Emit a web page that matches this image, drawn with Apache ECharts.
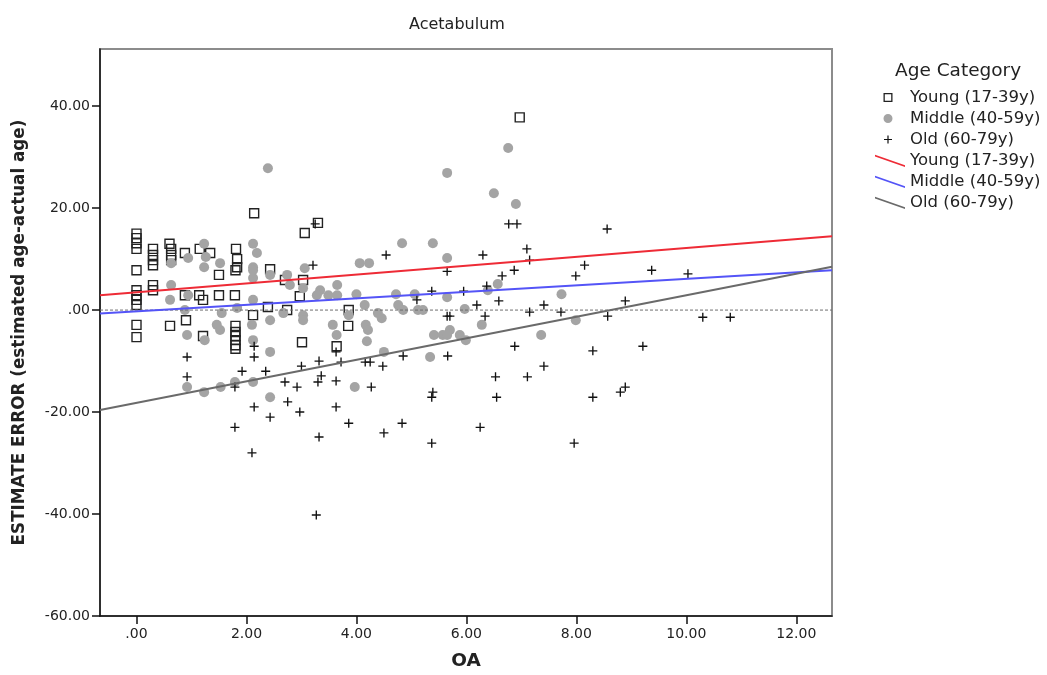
<!DOCTYPE html>
<html>
<head>
<meta charset="utf-8">
<script src="https://cdn.jsdelivr.net/npm/echarts@6/dist/echarts.min.js"></script>
<style>
  html, body { margin: 0; padding: 0; background: #fff; }
  #chart { width: 1047px; height: 675px; }
</style>
</head>
<body>
<div id="chart"></div>
<script>
// data: [OA, estimate error]
var youngPoints = [
  [0,15],[0,14.1],[0,13.1],[0,12],[0,7.8],[0,3.9],[0,2.9],[0,2.0],[0,1.0],[0,-2.9],[0,-5.3],
  [0.3,12],[0.3,10.8],[0.3,9.8],[0.3,8.8],[0.3,4.9],[0.3,3.9],
  [0.6,13],[0.63,12],[0.63,10.8],[0.63,9.8],[0.61,-3.1],
  [0.88,11.2],[0.88,2.9],[0.9,-2],
  [1.15,12],[1.34,11.2],[1.14,2.9],[1.21,2.0],[1.21,-5.1],
  [1.5,6.9],[1.5,2.9],
  [1.81,12],[1.83,10],[1.83,8.4],[1.8,7.8],[1.79,2.9],[1.8,-3.1],[1.8,-4.3],[1.8,-5.1],[1.8,-5.9],[1.8,-6.9],[1.8,-7.6],
  [2.14,19],[2.12,-1.0],[2.43,8],[2.39,0.6],
  [2.7,5.9],[3.03,5.9],[2.97,2.7],[2.74,0],[3.06,15.1],[3.3,17.1],[3.86,0],[3.85,-3.1],[3.01,-6.3],[3.64,-7.1],
  [6.97,37.8]
];
var middlePoints = [
  [0.63,9.2],[0.94,10.2],[1.23,13],[1.26,10.4],[1.52,9.2],[1.23,8.4],[2.12,13],[2.19,11.2],[2.12,8.4],[2.39,27.8],
  [2.12,7.8],[2.43,6.9],[2.12,6.3],[0.63,4.9],[0.61,2.0],[0.94,2.9],
  [1.83,0.4],[2.12,2.0],[0.88,0],[1.55,-0.6],[2.43,-2],[1.46,-2.9],[1.52,-3.9],[0.92,-4.9],[1.24,-5.9],[2.1,-2.9],[2.12,-5.9],[2.43,-8.2],
  [0.92,-15.1],[1.23,-16.1],[1.53,-15.1],[1.79,-14.1],[2.12,-14.1],[2.43,-17.1],
  [4.83,13.1],[5.39,13.1],[4.06,9.2],[4.23,9.2],[3.06,8.2],[5.65,10.2],[2.74,6.9],[2.79,4.9],[3.03,4.3],
  [3.34,3.9],[3.49,2.9],[3.65,4.9],[3.65,2.9],[3.28,2.9],[4.0,3.1],[4.15,1.0],[4.72,3.1],[5.06,3.1],[4.76,1.0],[4.85,0],[5.12,0],[5.21,0],[5.65,2.5],
  [2.67,-0.6],[3.03,-1],[3.03,-2],[3.86,-1],[3.57,-2.9],[3.64,-4.9],[4.17,-2.9],[4.21,-3.9],[4.39,-0.6],[4.46,-1.6],[4.19,-6.1],[5.41,-4.9],[5.57,-4.9],
  [4.5,-8.2],[5.34,-9.2],[3.97,-15.1],
  [5.65,26.9],[6.76,31.8],[6.5,22.9],[6.9,20.8],[6.57,5.1],[6.39,3.9],[7.73,3.1],[5.97,0.2],[7.99,-2],[6.28,-2.9],
  [5.7,-3.9],[5.65,-4.9],[5.88,-4.9],[5.99,-5.9],[7.36,-4.9]
];
var oldPoints = [
  [2.14,-7.1],[2.14,-9.2],[0.92,-9.2],[0.92,-13.1],[1.92,-12],[2.35,-12],[1.79,-15.1],[2.14,-19],[2.43,-21],[1.79,-23],[2.1,-28],
  [3.25,16.9],[4.54,10.8],[3.21,8.8],[5.65,7.6],[5.37,3.7],[5.1,2.0],[5.65,-1.2],[5.7,-1.2],
  [3.63,-8.2],[3.0,-11],[3.32,-10],[3.72,-10.2],[4.16,-10.2],[4.25,-10.2],[4.48,-11],[4.85,-9],[5.66,-9],
  [2.7,-14.1],[2.92,-15.1],[3.36,-12.9],[3.3,-14.1],[3.63,-13.9],[4.27,-15.1],[5.39,-16.1],[5.37,-17.1],
  [2.75,-18],[2.97,-20],[3.63,-19],[3.86,-22.2],[4.5,-24.1],[4.83,-22.2],[3.32,-24.9],[5.37,-26.1],[3.27,-40.2],
  [6.77,16.9],[6.92,16.9],[8.56,15.9],[7.1,12],[6.3,10.8],[7.15,9.8],[8.15,8.8],[7.99,6.7],[6.65,6.7],[6.87,7.8],[9.37,7.8],
  [6.37,4.7],[5.95,3.7],[6.59,1.8],[8.89,1.8],[6.19,1.0],[7.41,1.0],[7.15,-0.4],[7.72,-0.4],[6.34,-1.2],[8.57,-1.2],
  [6.88,-7.1],[8.3,-8],[9.21,-7.1],[7.41,-11],[6.53,-13.1],[7.11,-13.1],[6.55,-17.1],[8.3,-17.1],[8.8,-16.1],[8.89,-15.1],
  [6.25,-23],[7.96,-26.1],[10.03,7.1],[10.3,-1.4],[10.8,-1.4]
];

// fit lines: y at the left and right edge of the x range
var fitX = [-0.664, 12.65];
var youngFit = [2.9, 14.5];
var middleFit = [-0.65, 7.8];
var oldFit = [-19.6, 8.5];
var zeroLine = [0, 0];

var xTicks = [0, 2, 4, 6, 8, 10, 12];
var yTicks = [-60, -40, -20, 0, 20, 40];

var groupNames = ['Young (17-39y)', 'Middle (40-59y)', 'Old (60-79y)'];

function pairUp(xs, ys) {
  return xs.map(function (x, i) { return [x, ys[i]]; });
}
function fmt(v) {
  return v === 0 ? '.00' : v.toFixed(2);
}

// legend icons live in a 30x14 box (tiny corner specks keep the box size)
var box = 'M0,0h0.01v0.01h-0.01Z M30,14h-0.01v-0.01h0.01Z ';
var iconSquare = 'path://' + box + 'M8.5,2.5H17.5V11.5H8.5Z M9.8,3.8V10.2H16.2V3.8Z';
var iconCircle = 'path://' + box + 'M8.5,7A4.5,4.5 0 1,0 17.5,7A4.5,4.5 0 1,0 8.5,7Z';
var iconPlus = 'path://' + box + 'M12.4,3H13.6V6.4H17V7.6H13.6V11H12.4V7.6H9V6.4H12.4Z';
var iconLine = 'path://' + box + 'M0,1.2L30,11.8L30,13.6L0,3Z';
var plusSymbol = 'path://M3.4,0H4.6V3.4H8V4.6H4.6V8H3.4V4.6H0V3.4H3.4Z';

var chart = echarts.init(document.getElementById('chart'));
var txt = '#222';
var font = 'DejaVu Sans';

chart.setOption({
  animation: false,
  backgroundColor: '#fff',
  textStyle: { fontFamily: font, color: txt },
  title: [
    { text: 'Acetabulum', left: 404, top: 12,
      textStyle: { fontSize: 16, fontWeight: 'normal', color: txt, fontFamily: font } },
    { text: 'Age Category', left: 890, top: 57,
      textStyle: { fontSize: 18.5, fontWeight: 'normal', color: txt, fontFamily: font } }
  ],
  legend: {
    orient: 'vertical',
    left: 870,
    top: 84,
    itemWidth: 30,
    itemHeight: 14,
    itemGap: 4,
    symbolKeepAspect: true,
    textStyle: { fontSize: 16.5, color: txt, fontFamily: font, padding: [0, 0, 0, 0] },
    data: [
      { name: groupNames[0], icon: iconSquare, itemStyle: { color: '#222', borderWidth: 0 } },
      { name: groupNames[1], icon: iconCircle, itemStyle: { color: '#a4a4a4', borderWidth: 0 } },
      { name: groupNames[2], icon: iconPlus, itemStyle: { color: '#111', borderWidth: 0 } },
      { name: groupNames[0] + ' ', icon: iconLine, itemStyle: { color: '#ee2b36' } },
      { name: groupNames[1] + ' ', icon: iconLine, itemStyle: { color: '#5454f7' } },
      { name: groupNames[2] + ' ', icon: iconLine, itemStyle: { color: '#6a6a6a' } }
    ]
  },
  grid: {
    left: 100, right: 215, top: 49, bottom: 59,
    outerBoundsMode: 'none',
    show: true, borderColor: '#8c8c8c', borderWidth: 2, backgroundColor: '#fff'
  },
  xAxis: {
    type: 'value',
    min: fitX[0], max: fitX[1],
    name: 'OA',
    nameLocation: 'middle',
    nameGap: 36,
    nameTextStyle: { fontSize: 18.5, fontWeight: 'bold', color: txt, fontFamily: font },
    axisLine: { onZero: false, lineStyle: { color: '#111', width: 1.5 } },
    axisTick: { length: 8, customValues: xTicks, lineStyle: { color: '#111', width: 1.5 } },
    axisLabel: { customValues: xTicks, formatter: fmt, fontSize: 14, color: txt, margin: 11 },
    splitLine: { show: false }
  },
  yAxis: {
    type: 'value',
    min: -60, max: 51.2,
    name: 'ESTIMATE ERROR (estimated age-actual age)',
    nameLocation: 'middle',
    nameGap: 72,
    nameTextStyle: { fontSize: 16.8, fontWeight: 'bold', color: txt, fontFamily: font },
    axisLine: { onZero: false, lineStyle: { color: '#111', width: 1.5 } },
    axisTick: { length: 8, customValues: yTicks, lineStyle: { color: '#111', width: 1.5 } },
    axisLabel: { customValues: yTicks, formatter: fmt, fontSize: 14, color: txt, margin: 10 },
    splitLine: { show: false }
  },
  series: [
    {
      name: groupNames[0], type: 'scatter', data: youngPoints,
      symbol: 'rect', symbolSize: 9,
      itemStyle: { color: 'rgba(255,255,255,0)', borderColor: '#222', borderWidth: 1.4, opacity: 1 }
    },
    {
      name: groupNames[1], type: 'scatter', data: middlePoints,
      symbol: 'circle', symbolSize: 10,
      itemStyle: { color: '#a4a4a4', opacity: 1 }
    },
    {
      name: groupNames[2], type: 'scatter', data: oldPoints,
      symbol: plusSymbol, symbolSize: 9,
      itemStyle: { color: '#111', opacity: 1 }
    },
    {
      name: 'zero', type: 'line', data: pairUp(fitX, zeroLine), symbol: 'none', silent: true,
      lineStyle: { color: '#6e6e6e', width: 1, type: [3, 2] }
    },
    {
      name: groupNames[0] + ' ', type: 'line', data: pairUp(fitX, youngFit), symbol: 'none',
      lineStyle: { color: '#ee2b36', width: 2 }, itemStyle: { color: '#ee2b36' }
    },
    {
      name: groupNames[1] + ' ', type: 'line', data: pairUp(fitX, middleFit), symbol: 'none',
      lineStyle: { color: '#5454f7', width: 2 }, itemStyle: { color: '#5454f7' }
    },
    {
      name: groupNames[2] + ' ', type: 'line', data: pairUp(fitX, oldFit), symbol: 'none',
      lineStyle: { color: '#6a6a6a', width: 2 }, itemStyle: { color: '#6a6a6a' }
    }
  ]
});
</script>
</body>
</html>
